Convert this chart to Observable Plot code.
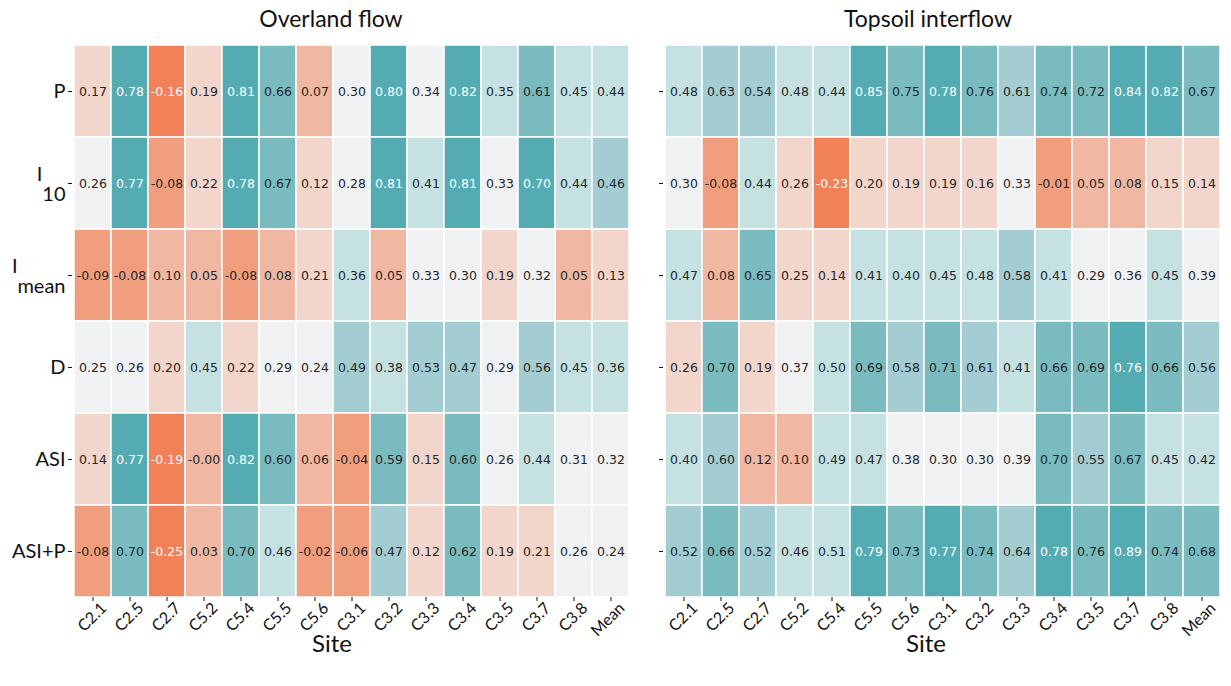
<!DOCTYPE html>
<html>
<head>
<meta charset="utf-8">
<script src="https://cdn.jsdelivr.net/npm/d3@7"></script>
<script src="https://cdn.jsdelivr.net/npm/@observablehq/plot@0.6"></script>
<style>
  body { margin: 0; background: #fff; }
  #wrap { position: relative; width: 1231px; height: 686px; overflow: hidden; background: #fff; font-family: Lato, "Open Sans", sans-serif; color: #111; }
  #wrap svg { position: absolute; top: 0; }
  .lbl { position: absolute; transform: translateX(-50%); white-space: nowrap; line-height: 1; }
  .title { top: 7px; font-size: 23px; }
  .xlab { top: 631px; font-size: 24px; }
</style>
</head>
<body>
<div id="wrap"></div>
<script>
// ---- data ----
const sites = ["C2.1","C2.5","C2.7","C5.2","C5.4","C5.5","C5.6","C3.1","C3.2","C3.3","C3.4","C3.5","C3.7","C3.8","Mean"];
const variables = ["P","I10","Imean","D","ASI","ASI+P"];

// Overland flow
const overlandP     = [0.17, 0.78, -0.16, 0.19, 0.81, 0.66, 0.07, 0.30, 0.80, 0.34, 0.82, 0.35, 0.61, 0.45, 0.44];
const overlandI10   = [0.26, 0.77, -0.08, 0.22, 0.78, 0.67, 0.12, 0.28, 0.81, 0.41, 0.81, 0.33, 0.703, 0.44, 0.464];
const overlandImean = [-0.09, -0.08, 0.10, 0.05, -0.08, 0.08, 0.21, 0.36, 0.05, 0.33, 0.30, 0.19, 0.32, 0.05, 0.13];
const overlandD     = [0.25, 0.26, 0.20, 0.45, 0.22, 0.29, 0.24, 0.49, 0.38, 0.53, 0.47, 0.29, 0.56, 0.45, 0.36];
const overlandASI   = [0.14, 0.77, -0.19, -0.001, 0.82, 0.60, 0.06, -0.04, 0.59, 0.15, 0.60, 0.26, 0.44, 0.31, 0.32];
const overlandASIP  = [-0.08, 0.70, -0.25, 0.03, 0.70, 0.46, -0.02, -0.06, 0.47, 0.12, 0.62, 0.19, 0.21, 0.26, 0.24];

// Topsoil interflow
const topsoilP      = [0.48, 0.63, 0.54, 0.48, 0.44, 0.85, 0.75, 0.78, 0.758, 0.61, 0.74, 0.72, 0.84, 0.82, 0.67];
const topsoilI10    = [0.30, -0.08, 0.44, 0.26, -0.2258, 0.20, 0.19, 0.19, 0.16, 0.33, -0.01, 0.05, 0.08, 0.15, 0.1449];
const topsoilImean  = [0.47, 0.08, 0.65, 0.25, 0.1449, 0.41, 0.40, 0.45, 0.48, 0.58, 0.41, 0.29, 0.36, 0.45, 0.39];
const topsoilD      = [0.26, 0.70, 0.19, 0.37, 0.50, 0.69, 0.58, 0.71, 0.61, 0.41, 0.66, 0.69, 0.764, 0.66, 0.56];
const topsoilASI    = [0.40, 0.60, 0.12, 0.10, 0.49, 0.47, 0.38, 0.30, 0.30, 0.39, 0.70, 0.55, 0.67, 0.45, 0.42];
const topsoilASIP   = [0.52, 0.66, 0.52, 0.46, 0.51, 0.79, 0.73, 0.77, 0.74, 0.636, 0.78, 0.758, 0.886, 0.74, 0.68];

// 9-step diverging palette (orange -> grey -> teal)
const palette = ["#f08159","#f09e7e","#f0b8a2","#f2d5cb","#f0f1f3","#c6e1e2","#a3cdd2","#7abbc0","#55abb2"];

function toRows(rows) {
  const out = [];
  rows.forEach((vals, i) => vals.forEach((v, j) => out.push({variable: variables[i], site: sites[j], value: v})));
  return out;
}
const overland = toRows([overlandP, overlandI10, overlandImean, overlandD, overlandASI, overlandASIP]);
const topsoil  = toRows([topsoilP, topsoilI10, topsoilImean, topsoilD, topsoilASI, topsoilASIP]);

function heat(data, opts) {
  const [lo, hi] = d3.extent(data, d => d.value);
  const th = d3.range(1, 9).map(i => lo + i * (hi - lo) / 9);
  const isDark = d => d.value < th[0] || d.value >= th[7];
  const fmt = d => d.value.toFixed(2);
  const svg = Plot.plot({
    width: opts.width, height: 686,
    marginTop: 45, marginBottom: 89, marginLeft: opts.marginLeft, marginRight: opts.marginRight,
    style: {fontFamily: "Lato, 'Open Sans', sans-serif", background: "transparent", color: "#111"},
    x: {domain: sites, padding: 0, label: null},
    y: {domain: variables, padding: 0, label: null},
    color: {type: "threshold", domain: th, range: palette},
    marks: [
      Plot.cell(data, {x: "site", y: "variable", fill: "value", stroke: "white", strokeWidth: 1.5}),
      Plot.text(data.filter(d => !isDark(d)), {x: "site", y: "variable", text: fmt, fill: "#262626", fontSize: 12.5, fontFamily: "DejaVu Sans"}),
      Plot.text(data.filter(isDark), {x: "site", y: "variable", text: fmt, fill: "white", fontSize: 12.5, fontFamily: "DejaVu Sans"}),
      Plot.axisX({tickSize: 4, tickFormat: () => "", label: null}),
      Plot.axisX({tickSize: 0, tickRotate: -45, tickPadding: 7, dx: 11, dy: 1, fontSize: 16, label: null}),
      Plot.axisY({tickSize: 4, tickPadding: 3, fontSize: 20, label: null, tickFormat: opts.showY ? (d => d) : (() => "")})
    ]
  });
  svg.style.left = opts.left + "px";
  // subscripts for I10 and Imean
  d3.select(svg).selectAll('g[aria-label="y-axis tick label"] text').each(function() {
    const t = d3.select(this);
    const s = t.text();
    if (s === "I10" || s === "Imean") {
      const sub = s.slice(1);
      t.text(null);
      t.append("tspan").attr("dy", "-0.45em").text("I");
      t.append("tspan").attr("dy", "1.0em").text(sub);
    }
  });
  return svg;
}

const wrap = document.getElementById("wrap");
wrap.appendChild(heat(overland, {width: 640, left: 0, marginLeft: 72, marginRight: 10, showY: true}));
wrap.appendChild(heat(topsoil, {width: 591, left: 640, marginLeft: 23, marginRight: 9, showY: false}));

function label(text, cls, x) {
  const d = document.createElement("div");
  d.className = "lbl " + cls;
  d.style.left = x + "px";
  d.textContent = text;
  wrap.appendChild(d);
}
label("Overland flow", "title", 331);
label("Topsoil interflow", "title", 928);
label("Site", "xlab", 332);
label("Site", "xlab", 926);
</script>
</body>
</html>
